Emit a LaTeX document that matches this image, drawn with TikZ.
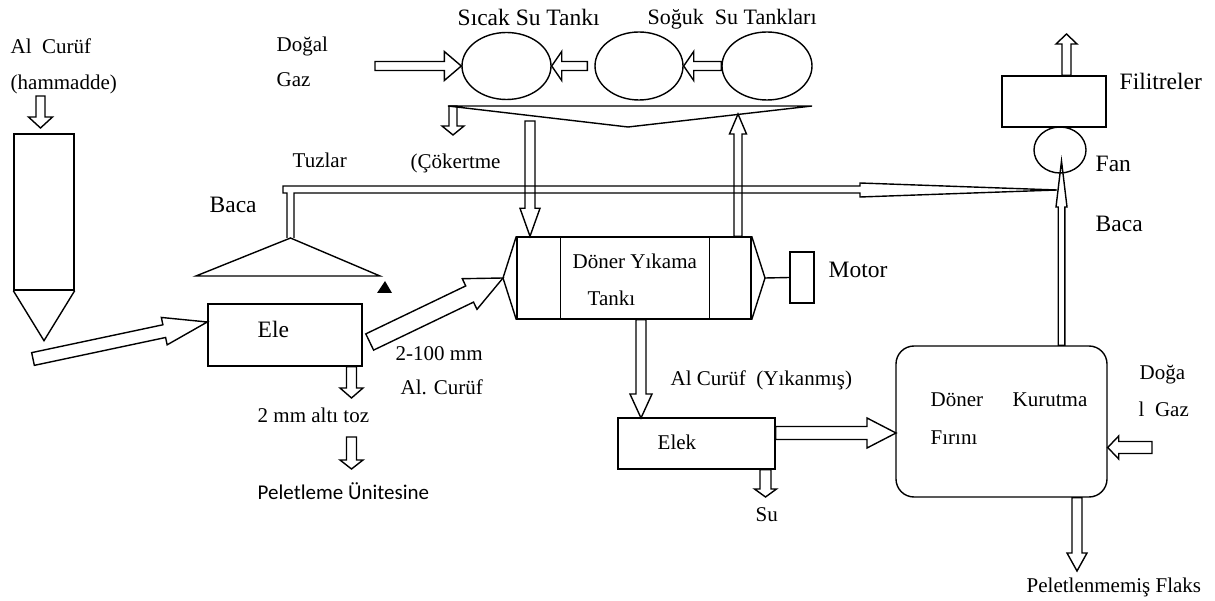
\documentclass[tikz,border=0pt]{standalone}
\usepackage{fontspec}
\setmainfont{Liberation Serif}
\newfontfamily\calibrifont{Carlito}
\usepackage{tikz}
\usetikzlibrary{positioning,calc,shapes.geometric}

\newcommand\flowsw{4pt}
\newcommand\flowhw{10pt}
\newcommand\flowhl{10pt}

\begin{document}
\begin{tikzpicture}[
        x=1pt, y=-1pt,
        line width=1.4pt,
        shaftw/.store in=\flowsw,
        headw/.store in=\flowhw,
        headl/.store in=\flowhl,
        flow/.style={draw, to path={
            let \p1=(\tikztostart), \p2=(\tikztotarget),
                \n1={atan2(\y2-\y1,\x2-\x1)}, \n2={veclen(\x2-\x1,\y2-\y1)} in
            ($(\p1)+(\n1+90:\flowsw)$)
            -- ($(\p1)+(\n1:\n2-\flowhl)+(\n1+90:\flowsw)$)
            -- ($(\p1)+(\n1:\n2-\flowhl)+(\n1+90:\flowhw)$)
            -- (\p2)
            -- ($(\p1)+(\n1:\n2-\flowhl)+(\n1-90:\flowhw)$)
            -- ($(\p1)+(\n1:\n2-\flowhl)+(\n1-90:\flowsw)$)
            -- ($(\p1)+(\n1-90:\flowsw)$) -- cycle}},
        unit/.style={rectangle, draw, inner sep=0pt},
        tank/.style={ellipse, draw, inner sep=0pt},
        txt/.style={inner sep=0pt, anchor=base west, font=\fontsize{21}{25}\selectfont},
        bigtxt/.style={txt, font=\fontsize{23.5}{28}\selectfont}
    ]
    \useasboundingbox (0,0) rectangle (1215,601);

    % units
    \node[unit, minimum width=60pt, minimum height=156pt] (hopper) at (44,212) {};
    \draw (hopper.south west) -- ($(hopper.south)+(0,50)$) -- (hopper.south east);

    \node[unit, minimum width=154pt, minimum height=62pt] (ele) at (285,335) {};

    \node[unit, minimum width=234pt, minimum height=82pt] (washer) at (634,278) {};
    \coordinate (washer-l) at (503,278);
    \coordinate (washer-r) at (765,278);
    \draw (washer.north west) -- (washer-l) -- (washer.south west);
    \draw (washer.north east) -- (washer-r) -- (washer.south east);
    \draw ($(washer.north west)+(44,0)$) -- ($(washer.south west)+(44,0)$);
    \draw ($(washer.north east)+(-42,0)$) -- ($(washer.south east)+(-42,0)$);
    \node[unit, minimum width=24pt, minimum height=51pt] (motor) at (802,277.5) {};
    \draw (washer-r) -- (motor.west);

    \node[unit, minimum width=157pt, minimum height=51pt] (elek) at (696.5,443.5) {};
    \node[unit, rounded corners=18pt, minimum width=211pt, minimum height=151pt] (kiln) at (1001.5,421.5) {};
    \node[unit, minimum width=104pt, minimum height=51pt] (filter) at (1054,101.5) {};
    \node[tank, minimum width=52pt, minimum height=46pt] (fan) at (1060,150) {};

    \node[tank, minimum width=89pt, minimum height=67pt] (hot) at (506.5,66) {};
    \node[tank, minimum width=88pt, minimum height=68pt] (cold1) at (639,66) {};
    \node[tank, minimum width=90pt, minimum height=68pt] (cold2) at (767,66) {};

    % settling basin and hood
    \draw (448,106) -- (812,106) -- (628,127) -- cycle;
    \coordinate (hoodtop) at (290.5,238);
    \draw (196,276) -- (hoodtop) -- (380,276) -- cycle;
    \fill (377,293) -- (385,281) -- (392,293) -- cycle;

    % stack pipe to the fan
    \coordinate (pipetip) at (1057,190);
    \draw (hoodtop) ++(-3.5,0) -- ++(0,-45) -- ++(-4,0) -- ++(0,-7) -- ++(577,0) -- ++(0,-3)
        -- (pipetip) -- ++(-197,7) -- ++(0,-4) -- ++(-566,0) -- ++(0,45);

    % flows
    \coordinate (rawin) at (40.5,96);
    \coordinate (rawout) at (40.5,128);
    \coordinate (feed) at (33,359);
    \coordinate (gasin) at (375,66);
    \coordinate (sludge) at (453,106);
    \coordinate (feedwater) at (530,121);
    \coordinate (return) at (738,114);
    \coordinate (elekin) at (641,418);
    \coordinate (kilnin) at (896,433);
    \coordinate (water) at (765.5,497);
    \coordinate (dust) at (351.5,398);
    \coordinate (pelletin) at (351.5,437);
    \coordinate (flux) at (1077,571);
    \coordinate (kilngas) at (1152,447.5);
    \coordinate (stack) at (1061.5,161);
    \coordinate (exhaust) at (1066.5,34);

    \draw[flow, shaftw=4.5pt, headw=12pt, headl=11pt] (rawin) to (rawout);
    \draw[flow, shaftw=6.5pt, headw=14pt, headl=44pt] (feed) to ([yshift=13pt]ele.west);
    \draw[flow, shaftw=9pt, headw=17pt, headl=37pt] ([xshift=7pt,yshift=-7pt]ele.east) to (washer-l);
    \draw[flow, shaftw=4.5pt, headw=14.5pt, headl=17pt] (gasin) to (hot.west);
    \draw[flow, shaftw=4.5pt, headw=14.5pt, headl=10pt] ([xshift=-7pt]cold1.west) to (hot.east);
    \draw[flow, shaftw=4.5pt, headw=14.5pt, headl=10pt] (cold2.west) to (cold1.east);
    \draw[flow, shaftw=4pt, headw=11pt, headl=9pt] (sludge) to ++(0,29);
    \draw[flow, shaftw=5pt, headw=10pt, headl=28pt] (feedwater) to (feedwater |- washer.north);
    \draw[flow, shaftw=4pt, headw=8.5pt, headl=20pt] (return |- washer.north) to (return);
    \draw[flow, shaftw=5pt, headw=11pt, headl=24pt] (elekin |- washer.south) to (elekin);
    \draw[flow, shaftw=6.5pt, headw=15pt, headl=29pt] (elek.east |- kilnin) to (kilnin);
    \draw[flow, shaftw=5.5pt, headw=11pt, headl=8pt] (water |- elek.south) to (water);
    \draw[flow, shaftw=5pt, headw=11.5pt, headl=10pt] (dust |- ele.south) to (dust);
    \draw[flow, shaftw=5pt, headw=11.5pt, headl=9pt] (pelletin) to ++(0,32);
    \draw[flow, shaftw=5pt, headw=10pt, headl=18pt] (flux |- kiln.south) to (flux);
    \draw[flow, shaftw=6pt, headw=11.5pt, headl=11pt] (kilngas) to (kilngas -| kiln.east);
    \draw[flow, shaftw=3.3pt, headw=5.5pt, headl=46pt] (stack |- kiln.north) to (stack);
    \draw[flow, shaftw=4.5pt, headw=10.5pt, headl=10pt] (exhaust |- filter.north) to (exhaust);

    % labels
    \node[txt] (t-raw1) at (10,54) {Al\ \ Curüf};
    \node[txt] (t-raw2) at (10,90) {(hammadde)};
    \node[txt] (t-gas1) at (276,52) {Doğal};
    \node[txt] (t-gas2) at (276,87) {Gaz};
    \node[bigtxt] (t-hot) at (457,26) {Sıcak Su Tankı};
    \node[txt, font=\fontsize{22}{26}\selectfont] (t-cold) at (647,25) {Soğuk\ \ Su Tankları};
    \node[txt] (t-salt) at (292,168) {Tuzlar};
    \node[txt] (t-settle) at (410,169) {(Çökertme};
    \node[bigtxt] (t-stack1) at (209,213) {Baca};
    \node[bigtxt] (t-ele) at (257,338) {Ele};
    \node[txt] (t-size) at (395,360) {2-100 mm};
    \node[txt] (t-slag) at (400,395) {Al. Curüf};
    \node[txt] (t-dust) at (257,422) {2 mm altı toz};
    \node[txt, font=\calibrifont\fontsize{21}{25}\selectfont] (t-pellet) at (257,499) {Peletleme Ünitesine};
    \node[txt] (t-washer1) at (572,269) {Döner Yıkama};
    \node[txt] (t-washer2) at (587,306) {Tankı};
    \node[bigtxt] (t-motor) at (828,278) {Motor};
    \node[txt] (t-washed) at (670,385) {Al Curüf\ \ (Yıkanmış)};
    \node[txt] (t-elek) at (657,449) {Elek};
    \node[txt] (t-water) at (755,521) {Su};
    \node[txt] (t-kiln1) at (930,406) {Döner};
    \node[txt] (t-kiln2) at (1012,406) {Kurutma};
    \node[txt] (t-kiln3) at (930,444) {Fırını};
    \node[txt] (t-kilngas1) at (1139,379) {Doğa};
    \node[txt] (t-kilngas2) at (1138,416) {l\ \ Gaz};
    \node[txt] (t-flux) at (1026,592) {Peletlenmemiş Flaks};
    \node[bigtxt] (t-filter) at (1119,90) {Filitreler};
    \node[bigtxt] (t-fan) at (1095,172) {Fan};
    \node[bigtxt] (t-stack2) at (1095,232) {Baca};
\end{tikzpicture}
\end{document}
